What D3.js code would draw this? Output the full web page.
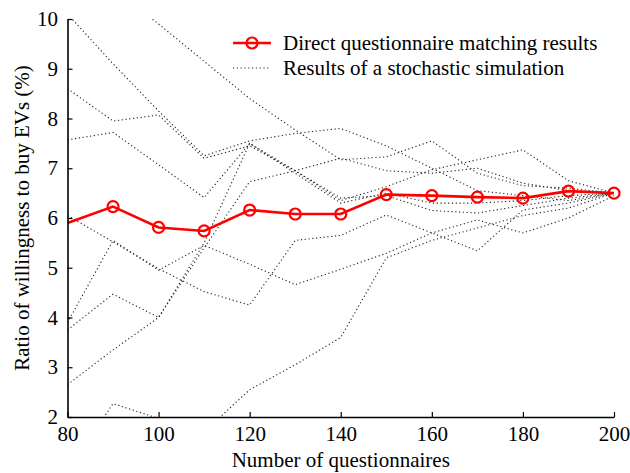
<!DOCTYPE html>
<html><head><meta charset="utf-8">
<script src="https://cdn.jsdelivr.net/npm/d3@7"></script>
<style>body{margin:0;background:#fff}</style>
</head><body>
<svg id="chart" width="630" height="473"></svg>
<script>
// ---- data ----
const xValues = [80, 90, 100, 110, 120, 130, 140, 150, 160, 170, 180, 190, 200];
const directResults = [5.90, 6.23, 5.81, 5.74, 6.16, 6.08, 6.08, 6.47, 6.45, 6.42, 6.40, 6.54, 6.50];
const simRunA = [10.1, 9.1, 8.15, 7.25, 7.55, 7.7, 7.8, 7.45, 7.0, 6.55, 6.45, 6.35, 6.5];
const simRunB = [8.6, 7.95, 8.07, 7.2, 7.45, 6.95, 6.35, 6.63, 6.97, 7.17, 7.37, 6.75, 6.5];
const simRunC = [11.4, 10.6, 9.9, 9.15, 8.4, 7.77, 7.17, 7.23, 7.55, 6.9, 6.65, 6.6, 6.5];
const simRunD = [7.57, 7.72, 7.07, 6.41, 7.5, 6.95, 6.4, 6.45, 6.15, 6.1, 6.25, 6.4, 6.5];
const simRunE = [6.05, 5.52, 4.98, 4.52, 4.25, 5.55, 5.65, 6.06, 5.7, 5.34, 6.16, 6.3, 6.5];
const simRunF = [3.9, 5.55, 4.95, 5.45, 5.07, 4.66, 4.97, 5.29, 5.7, 5.96, 5.7, 6.0, 6.45];
const simRunG = [3.75, 4.47, 4.0, 5.5, 7.5, 6.9, 6.3, 6.5, 6.3, 6.3, 6.35, 6.45, 6.5];
const simRunH = [2.65, 3.35, 4.0, 5.4, 6.73, 6.95, 7.2, 6.95, 6.9, 7.0, 6.7, 6.55, 6.5];
const simRunI = [0.9, 2.27, 1.97, 1.7, 2.55, 3.05, 3.6, 5.2, 5.55, 5.8, 6.05, 6.2, 6.5];
const simRuns = [simRunA, simRunB, simRunC, simRunD, simRunE, simRunF, simRunG, simRunH, simRunI];
const xTicks = [80, 100, 120, 140, 160, 180, 200];
const yTicks = [2, 3, 4, 5, 6, 7, 8, 9, 10];
const legendLabels = ["Direct questionnaire matching results", "Results of a stochastic simulation"];
const xTitle = "Number of questionnaires";
const yTitle = "Ratio of willingness to buy EVs (%)";

// ---- layout ----
const FONT = '"Liberation Serif","Times New Roman",Times,serif';
const mLeft = 67.5, mRight = 614, mTop = 19, mBottom = 417;
const svg = d3.select("#chart");
const x = d3.scaleLinear().domain([80, 200]).range([mLeft, mRight]);
const y = d3.scaleLinear().domain([2, 10]).range([mBottom, mTop]);

svg.append("defs").append("clipPath").attr("id", "plotclip")
  .append("rect").attr("x", mLeft).attr("y", mTop).attr("width", mRight - mLeft).attr("height", mBottom - mTop);

const line = d3.line().x((d, i) => x(xValues[i])).y(d => y(d));

// simulation runs
const simG = svg.append("g").attr("clip-path", "url(#plotclip)");
simG.selectAll("path").data(simRuns).join("path")
  .attr("d", line)
  .attr("fill", "none")
  .attr("stroke", "#222")
  .attr("stroke-width", 1.1)
  .attr("stroke-dasharray", "1.2,2.6");

// direct results
svg.append("path").datum(directResults)
  .attr("d", line).attr("fill", "none")
  .attr("stroke", "#ff0000").attr("stroke-width", 2.6);
svg.append("g").selectAll("circle")
  .data(directResults.map((v, i) => ({x: xValues[i], v})).filter(d => d.x > 80))
  .join("circle")
  .attr("cx", d => x(d.x)).attr("cy", d => y(d.v)).attr("r", 5.5)
  .attr("fill", "none").attr("stroke", "#ff0000").attr("stroke-width", 2.2);

// axes
const xAxis = svg.append("g").attr("transform", `translate(0,${mBottom})`)
  .call(d3.axisBottom(x).tickValues(xTicks).tickFormat(d3.format("d")).tickSizeInner(-5).tickSizeOuter(0).tickPadding(9));
const yAxis = svg.append("g").attr("transform", `translate(${mLeft},0)`)
  .call(d3.axisLeft(y).tickValues(yTicks).tickFormat(d3.format("d")).tickSizeInner(-5).tickSizeOuter(0).tickPadding(9.5));
[xAxis, yAxis].forEach(a => {
  a.attr("font-family", FONT).attr("font-size", 21);
  a.select(".domain").attr("stroke", "#000").attr("stroke-width", 1.6);
  a.selectAll(".tick line").attr("stroke", "#000").attr("stroke-width", 1.2);
  a.selectAll(".tick text").attr("fill", "#000");
});

// titles
svg.append("text").attr("x", (mLeft + mRight) / 2).attr("y", 467)
  .attr("text-anchor", "middle").attr("font-family", FONT).attr("font-size", 21).text(xTitle);
svg.append("text").attr("transform", `translate(29,${(mTop + mBottom) / 2}) rotate(-90)`)
  .attr("text-anchor", "middle").attr("font-family", FONT).attr("font-size", 21).text(yTitle);

// legend
const lg = svg.append("g");
lg.append("line").attr("x1", 233).attr("x2", 271).attr("y1", 43).attr("y2", 43)
  .attr("stroke", "#ff0000").attr("stroke-width", 2.6);
lg.append("circle").attr("cx", 252).attr("cy", 43).attr("r", 5.5)
  .attr("fill", "none").attr("stroke", "#ff0000").attr("stroke-width", 2.2);
lg.append("line").attr("x1", 233).attr("x2", 271).attr("y1", 68).attr("y2", 68)
  .attr("stroke", "#222").attr("stroke-width", 1.1).attr("stroke-dasharray", "1.2,2.6");
lg.selectAll("text").data(legendLabels).join("text")
  .attr("x", 283).attr("y", (d, i) => 50 + i * 25)
  .attr("font-family", FONT).attr("font-size", 21).attr("fill", "#000").text(d => d);
</script>
</body></html>
